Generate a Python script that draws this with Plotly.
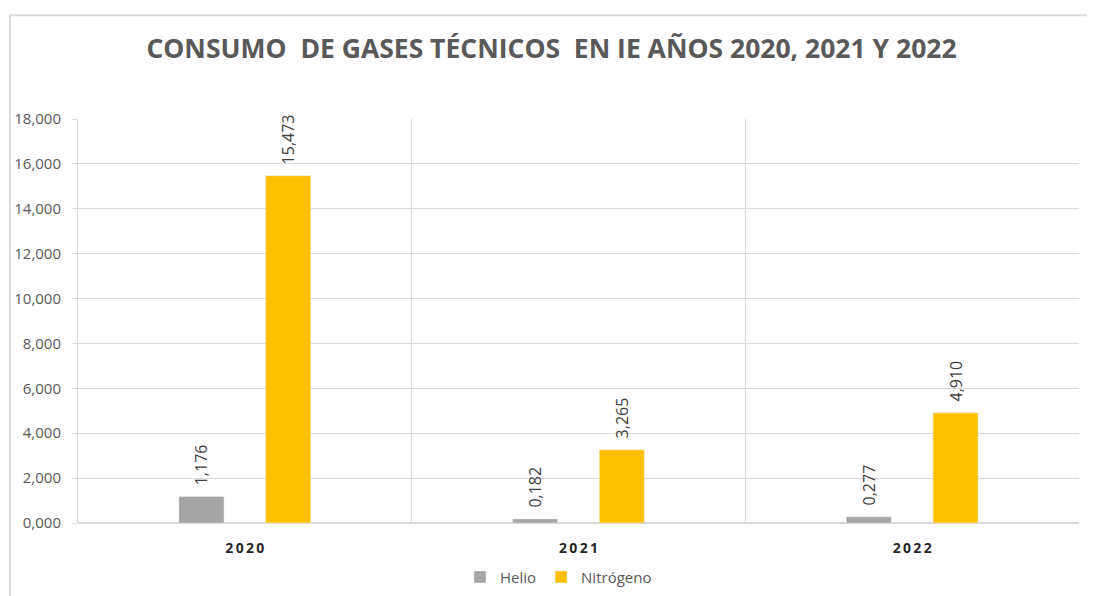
import plotly.graph_objects as go

years = ["2020", "2021", "2022"]
helio = [1.176, 0.182, 0.277]
nitrogeno = [15.473, 3.265, 4.910]
y_ticks = [0, 2, 4, 6, 8, 10, 12, 14, 16, 18]

title = "CONSUMO  DE GASES TÉCNICOS  EN IE AÑOS 2020, 2021 Y 2022"
text_font = dict(family="Open Sans", size=16, color="#404040")

fig = go.Figure()
fig.add_trace(go.Bar(
    x=years, y=helio, name="Helio",
    marker=dict(color="#A5A5A5"),
    texttemplate="\u00a0\u00a0%{y:.3f}", textposition="outside", textangle=-90,
    constraintext="none", textfont=text_font, cliponaxis=False,
))
fig.add_trace(go.Bar(
    x=years, y=nitrogeno, name="Nitrógeno",
    marker=dict(color="#FFC000"),
    texttemplate="\u00a0\u00a0%{y:.3f}", textposition="outside", textangle=-90,
    constraintext="none", textfont=text_font, cliponaxis=False,
))

fig.update_layout(
    width=1087, height=588,
    margin=dict(l=70, r=16, t=111, b=73, autoexpand=False),
    paper_bgcolor="white", plot_bgcolor="white",
    separators=",.",
    barmode="group", bargap=0.48, bargroupgap=0.48,
    title=dict(
        text="<b>" + title + "</b>",
        x=0.5, xanchor="center", y=0.930, yanchor="middle",
        font=dict(family="Open Sans", size=26.5, color="#595959"),
    ),
    legend=dict(
        orientation="h", x=0.48, xanchor="center",
        yref="container", y=0.032, yanchor="middle",
        font=dict(family="Open Sans", size=15, color="#595959"),
        itemwidth=30, traceorder="normal",
    ),
    font=dict(family="Open Sans"),
)

fig.update_xaxes(
    type="category", tickson="boundaries", showgrid=True, gridcolor="#D9D9D9",
    ticks="", showline=False, ticklabelstandoff=15, automargin=False,
    tickvals=years, ticktext=["<b>" + "\u2009".join(y) + "</b>" for y in years],
    tickfont=dict(family="Open Sans", size=14, color="#262626"),
)
fig.update_yaxes(
    range=[0, 18], tickvals=y_ticks, tickformat=".3f", automargin=False,
    showgrid=True, gridcolor="#D9D9D9", zeroline=True, zerolinecolor="#D9D9D9",
    showline=True, linecolor="#D9D9D9", ticks="outside", ticklen=5, tickcolor="#D9D9D9",
    ticklabelstandoff=8,
    tickfont=dict(family="Open Sans", size=15, color="#595959"),
)

# outer chart border
fig.add_shape(type="rect", xref="paper", yref="paper",
              x0=-0.068, x1=1.03, y0=-0.3, y1=1.257,
              line=dict(color="#D9D9D9", width=2), layer="below")

fig.write_html("out.html")
